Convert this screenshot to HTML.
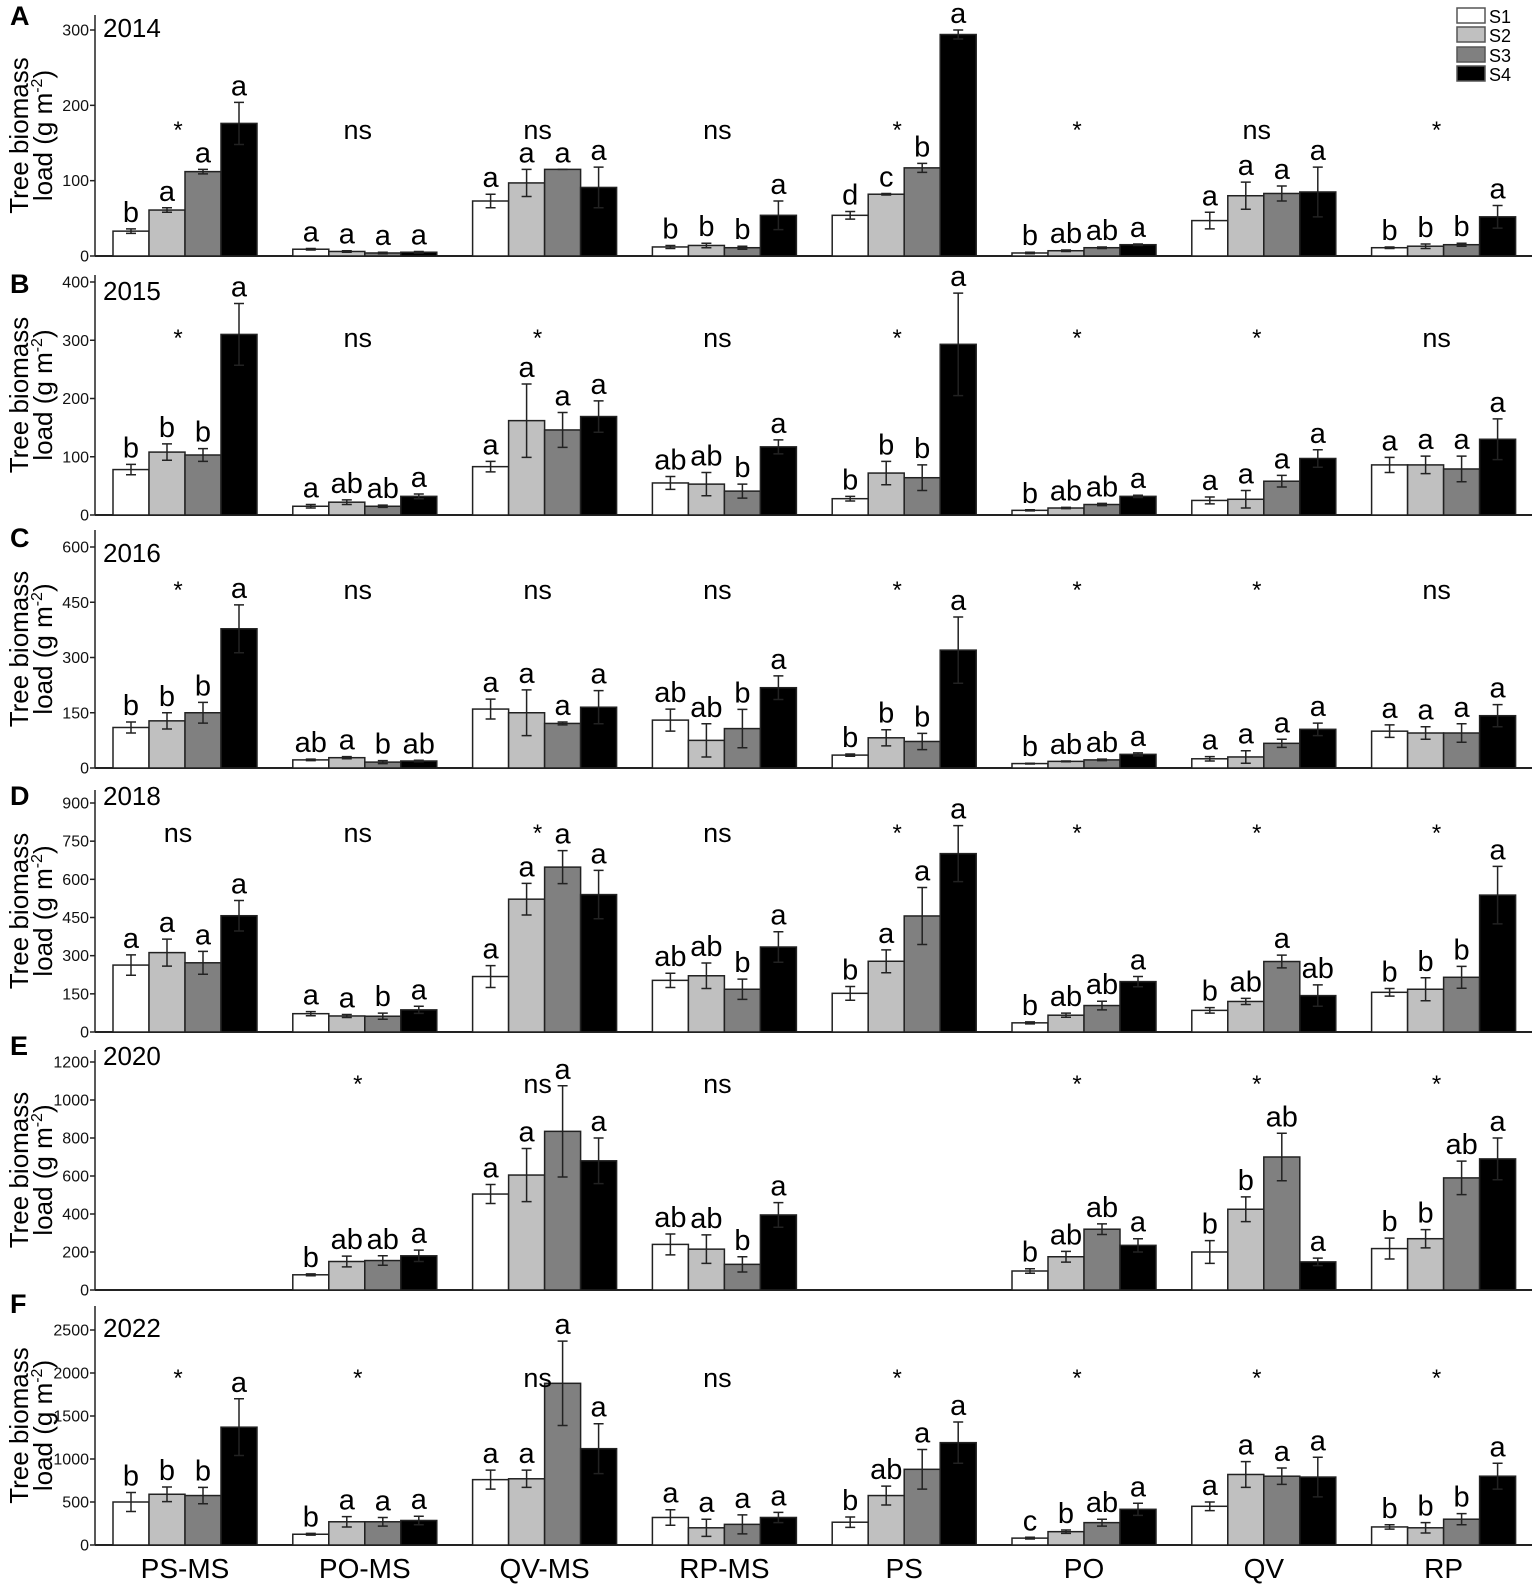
<!DOCTYPE html>
<html><head><meta charset="utf-8"><style>
html,body{margin:0;padding:0;background:#fff;}
svg{display:block;font-family:"Liberation Sans",Arial,sans-serif;}
</style></head><body>
<svg id="chart" width="1535" height="1590" viewBox="0 0 1535 1590" xmlns="http://www.w3.org/2000/svg">
<g id="legend">
<rect x="1457" y="8" width="28" height="15" fill="#fff" stroke="#555" stroke-width="1.5"/>
<text x="1489" y="23" font-size="18">S1</text>
<rect x="1457" y="27" width="28" height="15" fill="#c0c0c0" stroke="#555" stroke-width="1.5"/>
<text x="1489" y="42" font-size="18">S2</text>
<rect x="1457" y="47" width="28" height="15" fill="#808080" stroke="#555" stroke-width="1.5"/>
<text x="1489" y="62" font-size="18">S3</text>
<rect x="1457" y="66" width="28" height="15" fill="#000" stroke="#555" stroke-width="1.5"/>
<text x="1489" y="81" font-size="18">S4</text>
</g>
</svg>
<script>
const categories = ["PS-MS","PO-MS","QV-MS","RP-MS","PS","PO","QV","RP"];
const years = ["2014","2015","2016","2018","2020","2022"];
const panelLetters = ["A","B","C","D","E","F"];
const yMaxTicks = [300,400,600,900,1200,2500];
const tickSteps = [100,100,150,150,200,500];
const valsA = [[33,61,112,176],[9,6,4,5],[73,97,115,91],[12,14,11,54],[54,82,117,294],[4,7,11,15],[47,80,83,85],[11,13,15,52]];
const errsA = [[3,3,3,28],[1,1,1,1],[9,18,0,27],[2,3,2,19],[5,1,6,6],[1,1,1,1],[11,18,10,33],[1,3,2,15]];
const letsA = [["b","a","a","a"],["a","a","a","a"],["a","a","a","a"],["b","b","b","a"],["d","c","b","a"],["b","ab","ab","a"],["a","a","a","a"],["b","b","b","a"]];
const sigA = ["*","ns","ns","ns","*","*","ns","*"];
const valsB = [[78,108,103,310],[15,22,15,32],[83,162,146,169],[55,53,41,117],[28,72,64,293],[8,12,18,32],[25,27,58,97],[86,86,79,130]];
const errsB = [[9,14,11,53],[3,4,2,4],[9,63,30,27],[11,20,12,12],[4,20,22,88],[1,1,2,2],[6,15,10,15],[13,15,22,35]];
const letsB = [["b","b","b","a"],["a","ab","ab","a"],["a","a","a","a"],["ab","ab","b","a"],["b","b","b","a"],["b","ab","ab","a"],["a","a","a","a"],["a","a","a","a"]];
const sigB = ["*","ns","*","ns","*","*","*","ns"];
const valsC = [[110,128,150,378],[22,28,16,19],[160,150,121,165],[130,75,107,218],[35,82,72,320],[12,18,22,37],[25,30,67,105],[100,95,95,142]];
const errsC = [[15,22,28,65],[2,3,4,2],[27,62,4,45],[30,45,52,32],[3,22,22,90],[1,1,2,4],[6,17,11,17],[17,17,25,30]];
const letsC = [["b","b","b","a"],["ab","a","b","ab"],["a","a","a","a"],["ab","ab","b","a"],["b","b","b","a"],["b","ab","ab","a"],["a","a","a","a"],["a","a","a","a"]];
const sigC = ["*","ns","ns","ns","*","*","*","ns"];
const valsD = [[263,312,272,457],[72,63,62,87],[218,522,648,540],[203,221,168,334],[152,278,456,701],[36,66,104,198],[85,120,277,143],[156,168,215,538]];
const errsD = [[40,53,45,60],[8,6,12,14],[43,62,65,95],[28,50,40,60],[27,45,112,110],[4,8,17,20],[11,12,25,42],[15,45,43,113]];
const letsD = [["a","a","a","a"],["a","a","b","a"],["a","a","a","a"],["ab","ab","b","a"],["b","a","a","a"],["b","ab","ab","a"],["b","ab","a","ab"],["b","b","b","a"]];
const sigD = ["ns","ns","*","ns","*","*","*","*"];
const valsE = [[null,null,null,null],[80,150,155,180],[505,605,835,680],[240,215,135,395],[null,null,null,null],[100,175,320,235],[200,425,700,148],[218,270,590,690]];
const errsE = [[0,0,0,0],[5,28,25,30],[50,140,240,120],[55,75,40,65],[0,0,0,0],[12,28,28,35],[60,65,125,20],[55,48,88,110]];
const letsE = [["","","",""],["b","ab","ab","a"],["a","a","a","a"],["ab","ab","b","a"],["","","",""],["b","ab","ab","a"],["b","b","ab","a"],["b","b","ab","a"]];
const sigE = ["","*","ns","ns","","*","*","*"];
const valsF = [[500,590,575,1370],[125,270,270,285],[760,770,1880,1120],[320,200,240,320],[265,575,880,1190],[80,155,260,415],[450,820,800,790],[210,200,300,800]];
const errsF = [[110,85,95,330],[10,60,50,50],[110,100,490,290],[90,100,110,60],[60,110,230,240],[10,20,40,70],[50,150,95,230],[25,60,65,150]];
const letsF = [["b","b","b","a"],["b","a","a","a"],["a","a","a","a"],["a","a","a","a"],["b","ab","a","a"],["c","b","ab","a"],["a","a","a","a"],["b","b","b","a"]];
const sigF = ["*","*","ns","ns","*","*","*","*"];

const allVals=[valsA,valsB,valsC,valsD,valsE,valsF];
const allErrs=[errsA,errsB,errsC,errsD,errsE,errsF];
const allLets=[letsA,letsB,letsC,letsD,letsE,letsF];
const allSig=[sigA,sigB,sigC,sigD,sigE,sigF];

const zeroY=[256,515,768,1032,1290,1545];
const topTickY=[30,282,547,803,1062,1330];
const axisTop=[15,275,530,790,1050,1306];
const yearBase=[37,300,562,805,1065,1337];
const letterBase=[25,293,547,805,1055,1313];
const sigY=[130,338,590,833,1084,1378];
const axisX=95, axisRight=1532, g0=113, gStep=179.8, barW=36;
const fills=["#ffffff","#c0c0c0","#808080","#000000"];
const NS="http://www.w3.org/2000/svg";
const svg=document.getElementById('chart');
function mk(tag,attrs,parent){const e=document.createElementNS(NS,tag);for(const k in attrs)e.setAttribute(k,attrs[k]);(parent||svg).appendChild(e);return e;}
function xBand(gi,si){return g0+gi*gStep+si*barW;}

for(let p=0;p<6;p++){
  const scale=(zeroY[p]-topTickY[p])/yMaxTicks[p];
  const yS=v=>zeroY[p]-v*scale;
  const g=mk('g',{});
  
  
  const ya=mk('line',{x1:axisX,y1:axisTop[p],x2:axisX,y2:zeroY[p],stroke:'#222','stroke-width':1.5},g);
  
  
  const xa=mk('line',{x1:axisX,y1:zeroY[p],x2:axisRight,y2:zeroY[p],stroke:'#222','stroke-width':2},g);
  
  
  for(let t=0;t<=yMaxTicks[p];t+=tickSteps[p]){
    const y=yS(t);
    const tk=mk('line',{x1:axisX-5,y1:y,x2:axisX,y2:y,stroke:'#222','stroke-width':1.5},g);
    
    
    const tl=mk('text',{x:axisX-6,y:y+5.5,'font-size':16,'text-anchor':'end',fill:'#111'},g);
    tl.textContent=t;
    
    
  }
  const pl=mk('text',{x:10,y:letterBase[p],'font-size':27,'font-weight':'bold'},g);
  pl.textContent=panelLetters[p];
  
  
  const yr=mk('text',{x:103,y:yearBase[p],'font-size':26},g);
  yr.textContent=years[p];
  
  
  const cy=(axisTop[p]+zeroY[p])/2;
  const t1=mk('text',{x:0,y:0,'font-size':26,'text-anchor':'middle',transform:`translate(28,${cy}) rotate(-90)`},g);
  t1.textContent='Tree biomass';
  
  
  const t2=mk('text',{x:0,y:0,'font-size':26,'text-anchor':'middle',transform:`translate(52,${cy}) rotate(-90)`},g);
  t2.innerHTML='load (g m<tspan font-size="16" dy="-10">-2</tspan><tspan dy="10">)</tspan>';
  
  
  const vals=allVals[p],errs=allErrs[p],lets=allLets[p],sig=allSig[p];
  for(let gi=0;gi<categories.length;gi++){
    for(let si=0;si<4;si++){
      const v=vals[gi][si]; if(v===null) continue;
      const x=xBand(gi,si), y=yS(v), cx=x+barW/2;
      const r=mk('rect',{x:x,y:y,width:barW,height:zeroY[p]-y,fill:fills[si],stroke:'#222','stroke-width':1.5},g);
      
      
      const e=errs[gi][si]; const yt=yS(v+e), yb=yS(Math.max(0,v-e));
      const eb=mk('path',{d:`M${cx},${yt}V${yb}M${cx-5},${yt}H${cx+5}M${cx-5},${yb}H${cx+5}`,stroke:'#222','stroke-width':1.5,fill:'none'},g);
      
      
      const lt=mk('text',{x:cx,y:yt-7,'font-size':29,'text-anchor':'middle'},g);
      lt.textContent=lets[gi][si];
      
      
    }
    if(sig[gi]){
      const sx=g0+gi*gStep+2*barW-7;
      const st=mk('text',{x:sx,y:sig[gi]==='*'?sigY[p]+8:sigY[p]+9,'font-size':sig[gi]==='*'?24:27,'text-anchor':'middle'},g);
      st.textContent=sig[gi];
      
      
    }
  }
}
for(let gi=0;gi<categories.length;gi++){
  const cl=mk('text',{x:g0+gi*gStep+2*barW,y:1578,'font-size':28,'text-anchor':'middle'});
  cl.textContent=categories[gi];
  
  
}
</script>
</body></html>
